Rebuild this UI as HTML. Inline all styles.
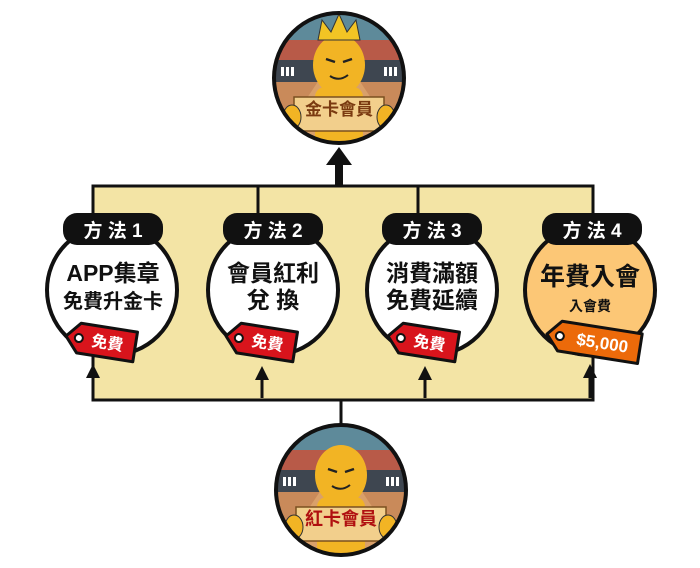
<!DOCTYPE html>
<html><head><meta charset="utf-8"><style>
html,body{margin:0;padding:0;background:#fff;}
svg{display:block;}
text{font-family:"Liberation Sans","Noto Sans CJK TC",sans-serif;font-weight:bold;}
</style></head><body>
<svg width="700" height="568" viewBox="0 0 700 568" xmlns="http://www.w3.org/2000/svg">
<defs>
<clipPath id="ct"><circle cx="339" cy="78" r="64"/></clipPath>
<clipPath id="cb"><circle cx="341" cy="490" r="64"/></clipPath>
<g id="scene">
  <rect x="-70" y="-70" width="140" height="140" fill="#c98a5a"/>
  <rect x="-70" y="-70" width="140" height="32" fill="#5e8a9a"/>
  <rect x="-70" y="-45" width="140" height="22" fill="#b85a48"/>
  <rect x="-70" y="-25" width="140" height="22" fill="#3e4650"/>
  <polygon points="-70,70 -20,-5 20,-5 70,70" fill="#d9a06a"/>
  <g fill="#fff"><rect x="-58" y="-18" width="3" height="9"/><rect x="-53" y="-18" width="3" height="9"/><rect x="-48" y="-18" width="3" height="9"/><rect x="45" y="-18" width="3" height="9"/><rect x="50" y="-18" width="3" height="9"/><rect x="55" y="-18" width="3" height="9"/></g>
  <rect x="-24" y="2" width="48" height="70" rx="10" fill="#f2b424"/>
  <ellipse cx="0" cy="-20" rx="26" ry="30" fill="#f2b424"/>
  <path d="M-13,-26 l9,3 M13,-26 l-9,3" stroke="#222" stroke-width="2.5"/>
  <path d="M-9,-9 q9,6 18,-1" stroke="#222" stroke-width="2" fill="none"/>
  <rect x="-45" y="12" width="90" height="34" fill="#f2cf8c" stroke="#7a5020" stroke-width="1.5"/>
  <ellipse cx="-47" cy="32" rx="9" ry="12" fill="#f2b424" stroke="#333" stroke-width="1"/>
  <ellipse cx="47" cy="32" rx="9" ry="12" fill="#f2b424" stroke="#333" stroke-width="1"/>
</g>
<g id="tagr">
  <path d="M0,0 L13,-15 L70,-15 L70,15 L13,15 Z" stroke="#111" stroke-width="3" stroke-linejoin="round"/>
  <circle cx="13" cy="0" r="4" fill="#fff" stroke="#111" stroke-width="2"/>
</g>
</defs>

<rect x="93" y="186" width="500" height="214" fill="#f3e4a5" stroke="#111" stroke-width="3"/>
<line x1="258" y1="186" x2="258" y2="230" stroke="#111" stroke-width="3"/>
<line x1="418" y1="186" x2="418" y2="230" stroke="#111" stroke-width="3"/>
<line x1="341" y1="400" x2="341" y2="426" stroke="#111" stroke-width="3"/>
<rect x="335" y="160" width="8" height="27" fill="#111"/>
<polygon points="339,147 326,165 352,165" fill="#111"/>
<g fill="#111">
<line x1="93" y1="398" x2="93" y2="375" stroke="#111" stroke-width="3"/><polygon points="93,364 86,378 100,378"/>
<line x1="262" y1="398" x2="262" y2="375" stroke="#111" stroke-width="3"/><polygon points="262,366 255,380 269,380"/>
<line x1="425" y1="398" x2="425" y2="375" stroke="#111" stroke-width="3"/><polygon points="425,366 418,380 432,380"/>
<line x1="590" y1="398" x2="590" y2="375" stroke="#111" stroke-width="3"/><polygon points="590,364 583,378 597,378"/>
</g>

<g clip-path="url(#ct)"><use href="#scene" transform="translate(339,85)"/></g>
<g fill="#f2c424" stroke="#333" stroke-width="1"><polygon points="318,40 322,20 331,32 339,14 347,32 356,20 360,40"/></g>
<circle cx="339" cy="78" r="65" fill="none" stroke="#111" stroke-width="4"/>
<text x="339" y="115" font-size="17" fill="#7a3a10" text-anchor="middle">金卡會員</text>

<g clip-path="url(#cb)"><use href="#scene" transform="translate(341,495)"/></g>
<circle cx="341" cy="490" r="65" fill="none" stroke="#111" stroke-width="4"/>
<text x="341" y="525" font-size="18" fill="#b01010" text-anchor="middle">紅卡會員</text>

<g stroke="#111" stroke-width="4">
<circle cx="112" cy="290" r="65" fill="#fff"/>
<circle cx="273" cy="290" r="65" fill="#fff"/>
<circle cx="432" cy="290" r="65" fill="#fff"/>
<circle cx="590" cy="290" r="65" fill="#fcc776"/>
</g>
<g fill="#111">
<rect x="63" y="213" width="100" height="32" rx="14"/>
<rect x="223" y="213" width="100" height="32" rx="14"/>
<rect x="382" y="213" width="100" height="32" rx="14"/>
<rect x="542" y="213" width="100" height="32" rx="14"/>
</g>
<g fill="#fff" font-size="19" text-anchor="middle">
<text x="113" y="237">方 法 1</text>
<text x="273" y="237">方 法 2</text>
<text x="432" y="237">方 法 3</text>
<text x="592" y="237">方 法 4</text>
</g>
<g fill="#111" text-anchor="middle">
<text x="113" y="281" font-size="23">APP集章</text>
<text x="113" y="308" font-size="20">免費升金卡</text>
<text x="273" y="281" font-size="23">會員紅利</text>
<text x="273" y="308" font-size="23">兌 換</text>
<text x="432" y="281" font-size="23">消費滿額</text>
<text x="432" y="308" font-size="23">免費延續</text>
<text x="590" y="285" font-size="25">年費入會</text>
<text x="590" y="311" font-size="14">入會費</text>
</g>

<g transform="translate(66,336) rotate(9)"><use href="#tagr" fill="#d8141c"/><text x="42" y="6" font-size="16" fill="#fff" text-anchor="middle">免費</text></g>
<g transform="translate(226,336) rotate(9)"><use href="#tagr" fill="#d8141c"/><text x="42" y="6" font-size="16" fill="#fff" text-anchor="middle">免費</text></g>
<g transform="translate(388,336) rotate(9)"><use href="#tagr" fill="#d8141c"/><text x="42" y="6" font-size="16" fill="#fff" text-anchor="middle">免費</text></g>
<g transform="translate(547,334) rotate(9)">
  <path d="M0,0 L13,-15 L94,-15 L94,15 L13,15 Z" fill="#ec6a0a" stroke="#111" stroke-width="3" stroke-linejoin="round"/>
  <circle cx="13" cy="0" r="4" fill="#fff" stroke="#111" stroke-width="2"/>
  <text x="56" y="6" font-size="17" fill="#fff" text-anchor="middle">$5,000</text>
</g>
</svg>
</body></html>
